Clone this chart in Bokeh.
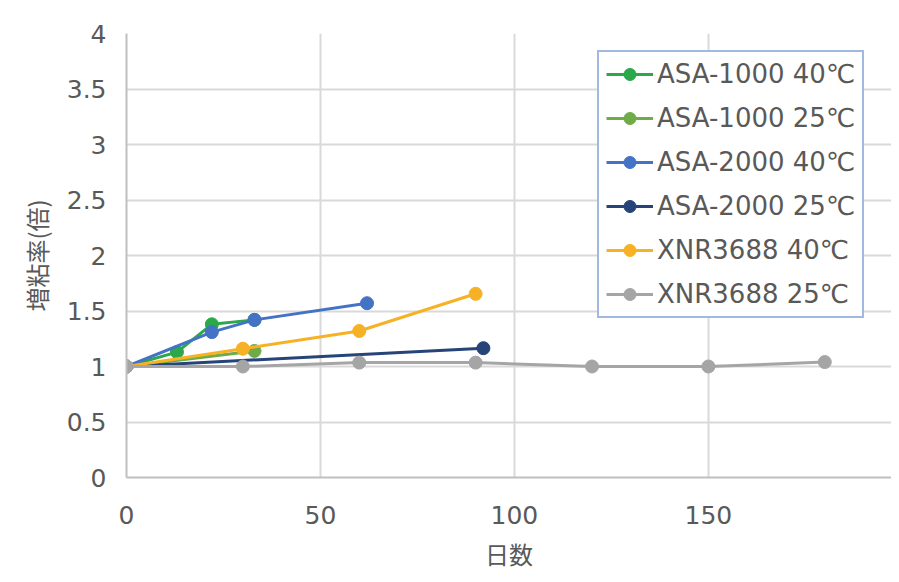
from bokeh.plotting import figure
from bokeh.models import FixedTicker, Range1d, Legend
from bokeh.embed import file_html
from bokeh.resources import INLINE

# ---- data ----
series_names = ["ASA-1000 40℃", "ASA-1000 25℃", "ASA-2000 40℃",
                "ASA-2000 25℃", "XNR3688 40℃", "XNR3688 25℃"]
a1000_40_days = [0, 13, 22, 33]
a1000_40_vals = [1.0, 1.13, 1.38, 1.42]
a1000_25_days = [0, 33]
a1000_25_vals = [1.0, 1.14]
a2000_40_days = [0, 22, 33, 62]
a2000_40_vals = [1.0, 1.31, 1.42, 1.57]
a2000_25_days = [0, 92]
a2000_25_vals = [1.0, 1.165]
xnr_40_days = [0, 30, 60, 90]
xnr_40_vals = [1.0, 1.16, 1.32, 1.655]
xnr_25_days = [0, 30, 60, 90, 120, 150, 180]
xnr_25_vals = [1.0, 1.0, 1.035, 1.035, 1.0, 1.0, 1.04]

x_ticks = [0, 50, 100, 150, 200]
x_tick_labels = ["0", "50", "100", "150", "200"]
y_ticks = [0, 0.5, 1, 1.5, 2, 2.5, 3, 3.5, 4]
y_tick_labels = ["0", "0.5", "1", "1.5", "2", "2.5", "3", "3.5", "4"]
x_title = "日数"
y_title = "増粘率(倍)"

colors = ["#2BA84A", "#6FAC47", "#4472C4", "#264478", "#F7B124", "#A5A5A5"]

TEXT = "#595959"
LATIN = "DejaVu Sans"
CJK = "Noto Sans CJK JP"

p = figure(width=891, height=574, output_backend="svg", toolbar_location=None,
           x_range=Range1d(0, 197.2), y_range=Range1d(0, 4),
           min_border_left=126, min_border_top=33, min_border_right=0,
           min_border_bottom=97)
p.outline_line_color = None
p.background_fill_color = "white"
p.border_fill_color = "white"

for ax in (p.xaxis[0], p.yaxis[0]):
    ax.axis_line_color = "#bfbfbf"
    ax.axis_line_width = 2
    ax.major_tick_line_color = None
    ax.minor_tick_line_color = None
    ax.major_label_text_color = TEXT
    ax.major_label_text_font = LATIN
    ax.major_label_text_font_size = "25px"
    ax.axis_label_text_color = TEXT
    ax.axis_label_text_font = CJK
    ax.axis_label_text_font_style = "normal"

p.yaxis.axis_label_text_font_size = "24px"
p.xaxis.axis_label_text_font_size = "24px"
p.xaxis.ticker = FixedTicker(ticks=x_ticks)
p.xaxis.major_label_overrides = dict(zip(x_ticks, x_tick_labels))
p.yaxis.ticker = FixedTicker(ticks=y_ticks)
p.yaxis.major_label_overrides = dict(zip(y_ticks, y_tick_labels))
p.xaxis.axis_label = x_title
p.yaxis.axis_label = y_title
p.xaxis.major_label_standoff = 22
p.xaxis.axis_label_standoff = 9
p.yaxis.major_label_standoff = 14
p.yaxis.axis_label_standoff = 10

p.xgrid.ticker = FixedTicker(ticks=x_ticks)
p.ygrid.ticker = FixedTicker(ticks=y_ticks)
p.xgrid.grid_line_color = "#d9d9d9"
p.ygrid.grid_line_color = "#d9d9d9"
p.xgrid.grid_line_width = 2
p.ygrid.grid_line_width = 2

all_days = [a1000_40_days, a1000_25_days, a2000_40_days, a2000_25_days, xnr_40_days, xnr_25_days]
all_vals = [a1000_40_vals, a1000_25_vals, a2000_40_vals, a2000_25_vals, xnr_40_vals, xnr_25_vals]

items = []
for name, d, v, c in zip(series_names, all_days, all_vals, colors):
    r1 = p.line(d, v, line_color=c, line_width=3)
    r2 = p.scatter(d, v, marker="circle", size=13, fill_color=c, line_color=c)
    items.append((name, [r1, r2]))

legend = Legend(items=items, location=(471, 159))
legend.margin = 0
legend.padding = 7
legend.spacing = 14
legend.label_height = 30
legend.glyph_height = 30
legend.glyph_width = 47
legend.label_standoff = 4
legend.label_text_font = LATIN
legend.label_text_font_size = "26px"
legend.label_text_color = TEXT
legend.border_line_color = "#4472C4"
legend.border_line_width = 2
legend.background_fill_color = "white"
legend.background_fill_alpha = 1.0
p.add_layout(legend)

open("out.html", "w").write(file_html(p, INLINE))
